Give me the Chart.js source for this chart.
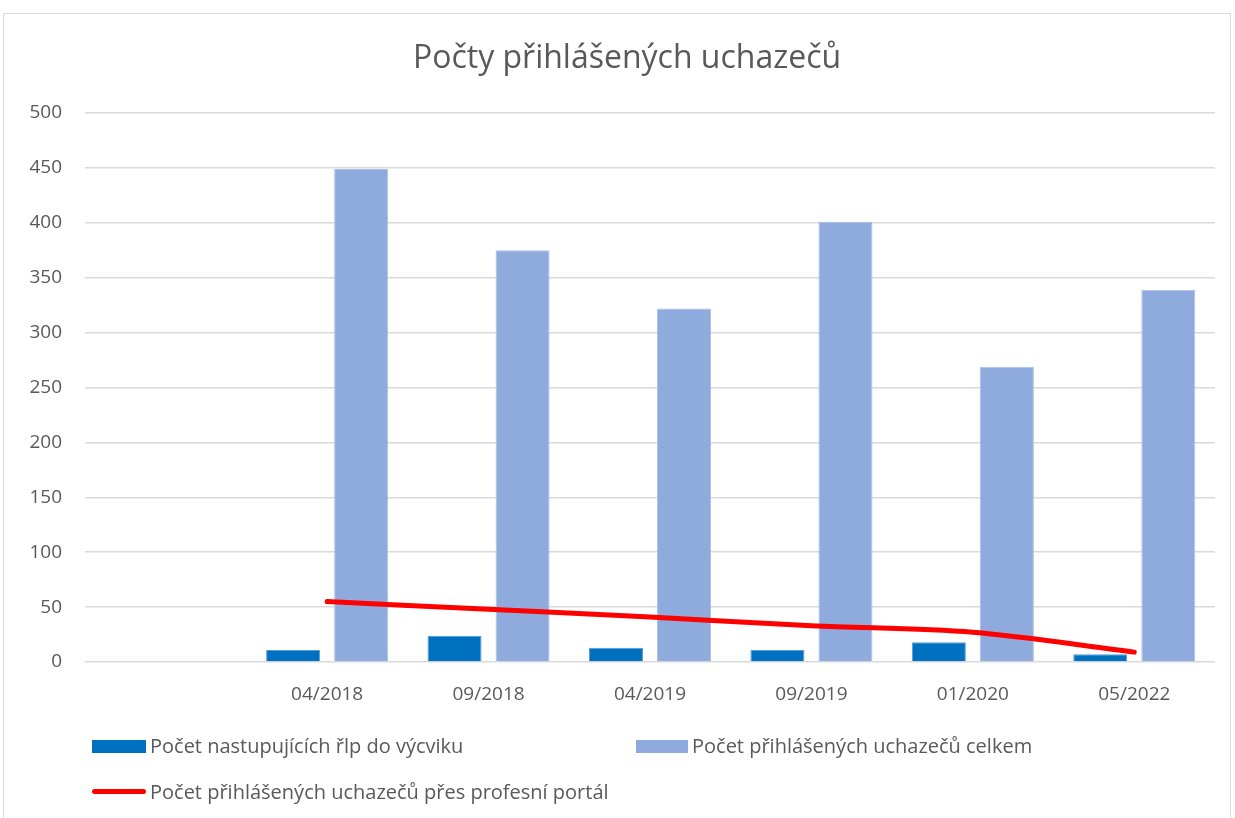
<!DOCTYPE html>
<html>
<head>
<meta charset="utf-8">
<script src="https://cdn.jsdelivr.net/npm/chart.js@4"></script>
<style>
  body { margin: 0; background: #fff; font-family: "Open Sans", "Noto Sans", sans-serif; }
  #wrap { position: relative; width: 1235px; height: 818px; overflow: hidden; }
  #frame { position: absolute; left: 3px; top: 13px; width: 1228px; height: 820px; border: 1px solid #d9d9d9; box-sizing: border-box; }
  #myChart { position: absolute; left: 0; top: 0; }
  .leg { position: absolute; font-size: 20px; color: #595959; white-space: nowrap; line-height: 22px; }
  .sw { position: absolute; }
</style>
</head>
<body>
<div id="wrap">
  <div id="frame"></div>
  <canvas id="myChart" width="1235" height="818"></canvas>
  <div class="sw" style="left:92px;top:740px;width:54px;height:13px;background:#0070c0"></div>
  <div class="leg" style="left:150px;top:735px">Počet nastupujících řlp do výcviku</div>
  <div class="sw" style="left:636px;top:740px;width:52px;height:13px;background:#8faadc"></div>
  <div class="leg" style="left:692px;top:735px">Počet přihlášených uchazečů celkem</div>
  <div class="sw" style="left:92px;top:789px;width:54px;height:5px;border-radius:3px;background:#ff0000"></div>
  <div class="leg" style="left:150px;top:781px">Počet přihlášených uchazečů přes profesní portál</div>
</div>
<script>
const labels = ["", "04/2018", "09/2018", "04/2019", "09/2019", "01/2020", "05/2022"];
const nastupujici = [null, 11, 24, 13, 11, 18, 7];
const celkem = [null, 449, 375, 322, 401, 269, 339];
const portal = [null, 55, 48, 41, 33, 27, 9];

const ctx = document.getElementById("myChart");
new Chart(ctx, {
  type: "bar",
  data: {
    labels: labels,
    datasets: [
      {
        type: "line",
        label: "Počet přihlášených uchazečů přes profesní portál",
        data: portal,
        borderColor: "#ff0000",
        borderWidth: 5,
        borderCapStyle: "round",
        pointRadius: 0,
        cubicInterpolationMode: "monotone",
        order: 0
      },
      {
        label: "Počet nastupujících řlp do výcviku",
        data: nastupujici,
        backgroundColor: "#0070c0",
        borderColor: "#5b9bd5",
        borderWidth: 1,
        order: 1
      },
      {
        label: "Počet přihlášených uchazečů celkem",
        data: celkem,
        backgroundColor: "#8faadc",
        borderColor: "#a9c0e8",
        borderWidth: 1,
        order: 1
      }
    ]
  },
  options: {
    responsive: false,
    animation: false,
    categoryPercentage: 0.843,
    barPercentage: 0.794,
    layout: { padding: { top: 113, right: 20, bottom: 116, left: 0 } },
    plugins: {
      legend: { display: false },
      tooltip: { enabled: false },
      title: { display: false }
    },
    scales: {
      x: {
        grid: { display: false },
        border: { display: false },
        ticks: { color: "#595959", font: { family: "Open Sans", size: 19 }, padding: 13, maxRotation: 0 },
        afterFit: (s) => { s.height = 40; }
      },
      y: {
        min: 0, max: 500,
        ticks: { stepSize: 50, color: "#595959", font: { family: "Open Sans", size: 19 }, padding: 23 },
        grid: { color: "#d9d9d9", lineWidth: 1.5, drawTicks: false },
        border: { display: false },
        afterFit: (s) => { s.width = 85; }
      }
    }
  },
  plugins: [{
    id: "chartTitle",
    afterDraw(chart) {
      const c = chart.ctx;
      c.save();
      c.fillStyle = "#595959";
      c.font = "32px 'Open Sans'";
      c.textAlign = "center";
      c.textBaseline = "middle";
      c.fillText("Počty přihlášených uchazečů", 627, 59);
      c.restore();
    }
  }]
});
</script>
</body>
</html>
